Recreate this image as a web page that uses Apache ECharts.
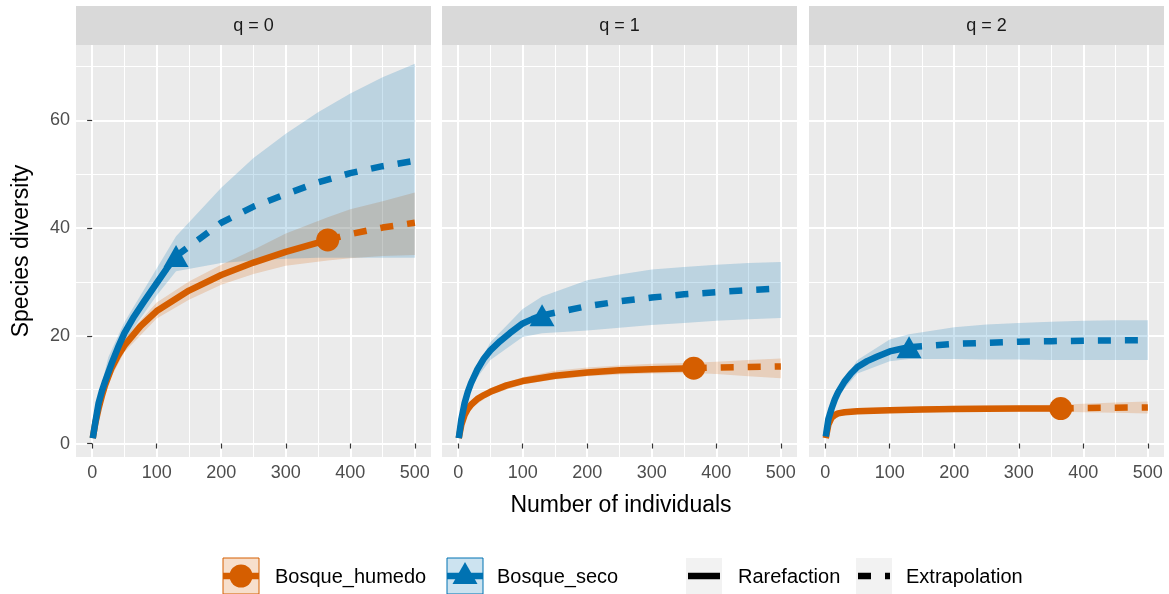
<!DOCTYPE html>
<html>
<head>
<meta charset="utf-8">
<script src="https://cdn.jsdelivr.net/npm/echarts@6/dist/echarts.min.js"></script>
<style>
html,body{margin:0;padding:0;background:#fff;}
#chart{width:1169px;height:594px;}
</style>
</head>
<body>
<div id="chart"></div>
<script>
// ---------- data ----------
const panelTitles = ['q = 0', 'q = 1', 'q = 2'];
const groupNames = ['Bosque_humedo', 'Bosque_seco'];
const methodNames = ['Rarefaction', 'Extrapolation'];
const xTicks = [0, 100, 200, 300, 400, 500];
const xMinorTicks = [50, 150, 250, 350, 450];
const yTicks = [0, 20, 40, 60];
const yMinorTicks = [10, 30, 50, 70];

// Bosque_humedo (orange)
const humRareX = [1, 5, 10, 15, 20, 30, 40, 50, 75, 100, 150, 200, 250, 300, 365];
const humExtX = [365, 400, 450, 500];
const humBandX = [1, 10, 25, 50, 100, 150, 200, 250, 300, 365, 400, 450, 500];
const humObsX = 365;

const humRareY_q0 = [1, 3.8, 6.5, 8.8, 10.8, 14, 16.3, 18.2, 21.8, 24.6, 28.4, 31.3, 33.6, 35.6, 37.8];
const humExtY_q0 = [37.8, 38.9, 40.1, 41];
const humBandLo_q0 = [1, 5.8, 11.3, 17, 23.2, 26.7, 29.5, 31.5, 33, 34, 34.4, 34.8, 35];
const humBandHi_q0 = [1, 6.8, 13.2, 19.5, 26.2, 30.1, 33.2, 36, 39, 42, 43.5, 45, 46.6];

const humRareY_q1 = [1, 3.5, 5.3, 6.4, 7.2, 8.3, 9, 9.6, 10.8, 11.6, 12.6, 13.2, 13.6, 13.8, 14];
const humExtY_q1 = [14, 14.1, 14.2, 14.3];
const humBandLo_q1 = [1, 4.8, 7, 9, 11, 11.9, 12.5, 12.8, 13, 13.1, 12.9, 12.5, 12.1];
const humBandHi_q1 = [1, 5.8, 8, 10.3, 12.3, 13.5, 14.1, 14.5, 14.8, 15, 15.2, 15.5, 15.8];

const humRareY_q2 = [1, 3.5, 4.8, 5.3, 5.6, 5.8, 5.9, 6, 6.1, 6.2, 6.3, 6.4, 6.45, 6.5, 6.5];
const humExtY_q2 = [6.5, 6.6, 6.65, 6.7];
const humBandLo_q2 = [1, 4.3, 5.2, 5.5, 5.7, 5.8, 5.9, 5.9, 5.9, 5.9, 5.8, 5.7, 5.6];
const humBandHi_q2 = [1, 5.2, 6.2, 6.6, 6.8, 6.9, 7, 7.1, 7.1, 7.2, 7.4, 7.6, 7.8];

// Bosque_seco (blue)
const secRareX = [1, 5, 10, 15, 20, 30, 40, 50, 65, 80, 100, 115, 130];
const secExtX = [130, 200, 250, 300, 350, 400, 450, 500];
const secBandX = [1, 10, 25, 50, 100, 130, 200, 250, 300, 350, 400, 450, 500];
const secObsX = 130;

const secRareY_q0 = [1, 4, 7.5, 9.7, 11.5, 14.8, 17.8, 20.5, 23.6, 26.3, 29.8, 32.4, 34.8];
const secExtY_q0 = [34.8, 41, 44, 46.3, 48.5, 50.2, 51.5, 52.5];
const secBandLo_q0 = [1, 7, 13, 19, 27.5, 32, 33.5, 34, 34.3, 34.5, 34.5, 34.5, 34.5];
const secBandHi_q0 = [1, 8.5, 16, 22.5, 32.5, 38.5, 47.5, 53, 57.5, 61.5, 65, 68, 70.5];

const secRareY_q1 = [1, 4.5, 7.5, 9.6, 11.2, 13.8, 15.8, 17.3, 19, 20.5, 22.3, 23.1, 23.8];
const secExtY_q1 = [23.8, 25.5, 26.4, 27.1, 27.7, 28.1, 28.5, 28.8];
const secBandLo_q1 = [1, 7, 11.5, 15.5, 19.8, 20.5, 21, 21.5, 22, 22.4, 22.8, 23.1, 23.3];
const secBandHi_q1 = [1, 8, 13, 18.8, 25, 27.3, 30.3, 31.4, 32.3, 32.8, 33.2, 33.5, 33.7];

const secRareY_q2 = [1.3, 4.5, 6.5, 8.2, 9.5, 11.5, 13, 14.2, 15.3, 16.1, 17.1, 17.5, 17.9];
const secExtY_q2 = [17.9, 18.5, 18.7, 18.9, 19, 19.1, 19.15, 19.2];
const secBandLo_q2 = [1.3, 6, 9.5, 13, 15.3, 15.7, 15.7, 15.6, 15.6, 15.5, 15.5, 15.5, 15.5];
const secBandHi_q2 = [1.3, 7, 11, 15.5, 19.3, 20.3, 21.6, 22.1, 22.4, 22.6, 22.8, 22.9, 22.9];

// ---------- styling ----------
const FONT = '"Liberation Sans", Arial, Helvetica, sans-serif';
const ORANGE = '#D55E00';
const BLUE = '#0072B2';
const ORANGE_FILL = 'rgba(213,94,0,0.2)';
const BLUE_FILL = 'rgba(0,114,178,0.2)';
const LINE_W = 6.5;
const DASH = [13, 14];

const gridLefts = [76, 442, 809];
const GRID_W = 355, GRID_TOP = 45, GRID_H = 412;
const X_MIN = -25, X_MAX = 525, Y_MIN = -2.5, Y_MAX = 74;

const panelData = [
  {hR: humRareY_q0, hE: humExtY_q0, hLo: humBandLo_q0, hHi: humBandHi_q0,
   sR: secRareY_q0, sE: secExtY_q0, sLo: secBandLo_q0, sHi: secBandHi_q0},
  {hR: humRareY_q1, hE: humExtY_q1, hLo: humBandLo_q1, hHi: humBandHi_q1,
   sR: secRareY_q1, sE: secExtY_q1, sLo: secBandLo_q1, sHi: secBandHi_q1},
  {hR: humRareY_q2, hE: humExtY_q2, hLo: humBandLo_q2, hHi: humBandHi_q2,
   sR: secRareY_q2, sE: secExtY_q2, sLo: secBandLo_q2, sHi: secBandHi_q2}
];

const zip = (xs, ys) => xs.map((x, i) => [x, ys[i]]);

const grids = [], xAxes = [], yAxes = [], series = [], graphics = [];

gridLefts.forEach((left, p) => {
  grids.push({left: left, top: GRID_TOP, width: GRID_W, height: GRID_H,
    show: true, backgroundColor: '#EBEBEB', borderWidth: 0, containLabel: false});
  xAxes.push({type: 'value', gridIndex: p, min: X_MIN, max: X_MAX, position: 'bottom',
    axisLine: {show: false},
    axisTick: {show: true, length: 5, customValues: xTicks, lineStyle: {color: '#333333', width: 1.2}},
    axisLabel: {show: true, customValues: xTicks, color: '#4D4D4D', fontSize: 18, fontFamily: FONT, margin: 7},
    splitLine: {show: true, lineStyle: {color: '#FFFFFF', width: 2}}});
  xAxes.push({type: 'value', gridIndex: p, min: X_MIN, max: X_MAX, position: 'bottom',
    axisLine: {show: false},
    axisTick: {show: false, customValues: xMinorTicks},
    axisLabel: {show: false, customValues: xMinorTicks},
    splitLine: {show: true, lineStyle: {color: '#FFFFFF', width: 1}}});
  yAxes.push({type: 'value', gridIndex: p, min: Y_MIN, max: Y_MAX, position: 'left',
    axisLine: {show: false},
    axisTick: {show: p === 0, length: 5, customValues: yTicks, lineStyle: {color: '#333333', width: 1.2}},
    axisLabel: {show: p === 0, customValues: yTicks, color: '#4D4D4D', fontSize: 18, fontFamily: FONT, margin: 6},
    splitLine: {show: true, lineStyle: {color: '#FFFFFF', width: 2}}});
  yAxes.push({type: 'value', gridIndex: p, min: Y_MIN, max: Y_MAX, position: 'left',
    axisLine: {show: false},
    axisTick: {show: false, customValues: yMinorTicks},
    axisLabel: {show: false, customValues: yMinorTicks},
    splitLine: {show: true, lineStyle: {color: '#FFFFFF', width: 1}}});

  const d = panelData[p];
  const xi = p * 2, yi = p * 2;

  const band = (bx, lo, hi, fill, name) => ({
    type: 'custom', name: name, xAxisIndex: xi, yAxisIndex: yi, silent: true, z: 1,
    data: [0], clip: true,
    renderItem: function (params, api) {
      const pts = [];
      for (let i = 0; i < bx.length; i++) pts.push(api.coord([bx[i], hi[i]]));
      for (let i = bx.length - 1; i >= 0; i--) pts.push(api.coord([bx[i], lo[i]]));
      return {type: 'polygon', shape: {points: pts}, style: {fill: fill, stroke: null}};
    }
  });
  series.push(band(humBandX, d.hLo, d.hHi, ORANGE_FILL, groupNames[0]));
  series.push(band(secBandX, d.sLo, d.sHi, BLUE_FILL, groupNames[1]));

  const line = (xs, ys, color, dashed) => ({
    type: 'line', xAxisIndex: xi, yAxisIndex: yi, data: zip(xs, ys), z: 2,
    showSymbol: false, silent: true, smooth: false,
    lineStyle: {color: color, width: LINE_W, type: dashed ? DASH : 'solid', cap: 'butt', join: 'round'}
  });
  series.push(line(humRareX, d.hR, ORANGE, false));
  series.push(line(humExtX, d.hE, ORANGE, true));
  series.push(line(secRareX, d.sR, BLUE, false));
  series.push(line(secExtX, d.sE, BLUE, true));

  series.push({type: 'scatter', xAxisIndex: xi, yAxisIndex: yi, z: 3, silent: true,
    data: [[humObsX, d.hR[d.hR.length - 1]]], symbol: 'circle', symbolSize: 23,
    itemStyle: {color: ORANGE, opacity: 1}});
  series.push({type: 'scatter', xAxisIndex: xi, yAxisIndex: yi, z: 3, silent: true,
    data: [[secObsX, d.sR[d.sR.length - 1]]], symbol: 'triangle', symbolSize: [25, 22],
    itemStyle: {color: BLUE, opacity: 1}});

  graphics.push({type: 'rect', left: left, top: 6, shape: {width: GRID_W, height: 39},
    style: {fill: '#D9D9D9'}, silent: true});
  graphics.push({type: 'text', x: left + GRID_W / 2, y: 26,
    style: {text: panelTitles[p], font: '18px ' + FONT, fill: '#1A1A1A', textAlign: 'center', textVerticalAlign: 'middle'}});
});

graphics.push({type: 'text', x: 621, y: 506,
  style: {text: 'Number of individuals', font: '23px ' + FONT, fill: '#000', textAlign: 'center', textVerticalAlign: 'middle'}});
graphics.push({type: 'text', x: 22, y: 251, rotation: Math.PI / 2,
  style: {text: 'Species diversity', font: '23px ' + FONT, fill: '#000', textAlign: 'center', textVerticalAlign: 'middle'}});

const LY = 558, KS = 36, LC = LY + KS / 2;
function colourKey(x, fill, color, symbol) {
  graphics.push({type: 'rect', shape: {x: x, y: LY, width: KS, height: KS},
    style: {fill: fill, stroke: color, lineWidth: 1}});
  graphics.push({type: 'line', shape: {x1: x, y1: LC, x2: x + KS, y2: LC},
    style: {stroke: color, lineWidth: LINE_W}});
  if (symbol === 'circle') {
    graphics.push({type: 'circle', shape: {cx: x + KS / 2, cy: LC, r: 11.5}, style: {fill: color}});
  } else {
    graphics.push({type: 'polygon', shape: {points: [[x + KS / 2, LC - 14], [x + KS / 2 + 12.5, LC + 8], [x + KS / 2 - 12.5, LC + 8]]},
      style: {fill: color}});
  }
}
colourKey(223, ORANGE_FILL, ORANGE, 'circle');
colourKey(447, BLUE_FILL, BLUE, 'triangle');
graphics.push({type: 'text', x: 275, y: LC + 1,
  style: {text: groupNames[0], font: '20px ' + FONT, fill: '#000', textVerticalAlign: 'middle'}});
graphics.push({type: 'text', x: 497, y: LC + 1,
  style: {text: groupNames[1], font: '20px ' + FONT, fill: '#000', textVerticalAlign: 'middle'}});

function typeKey(x, dashed) {
  graphics.push({type: 'rect', shape: {x: x, y: LY, width: KS, height: KS}, style: {fill: '#F2F2F2'}});
  graphics.push({type: 'line', shape: {x1: x + 2, y1: LC, x2: x + KS - 2, y2: LC},
    style: {stroke: '#000', lineWidth: LINE_W, lineDash: dashed ? DASH : null}});
}
typeKey(686, false);
typeKey(856, true);
graphics.push({type: 'text', x: 738, y: LC + 1,
  style: {text: methodNames[0], font: '20px ' + FONT, fill: '#000', textVerticalAlign: 'middle'}});
graphics.push({type: 'text', x: 906, y: LC + 1,
  style: {text: methodNames[1], font: '20px ' + FONT, fill: '#000', textVerticalAlign: 'middle'}});

const chart = echarts.init(document.getElementById('chart'), null, {renderer: 'canvas'});
chart.setOption({
  animation: false,
  backgroundColor: '#FFFFFF',
  grid: grids,
  xAxis: xAxes,
  yAxis: yAxes,
  series: series,
  graphic: graphics
});
</script>
</body>
</html>
